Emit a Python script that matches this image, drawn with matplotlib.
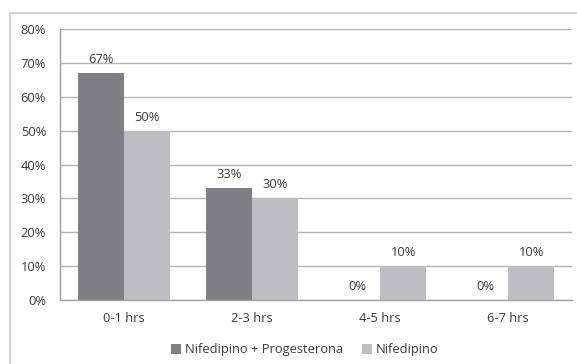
import matplotlib
matplotlib.use("Agg")
import matplotlib.pyplot as plt
from matplotlib.patches import Rectangle
from matplotlib.ticker import FuncFormatter
import numpy as np

categories = ["0-1 hrs", "2-3 hrs", "4-5 hrs", "6-7 hrs"]
series_names = ["Nifedipino + Progesterona", "Nifedipino"]
nif_prog = [67, 33, 0, 0]
nif = [50, 30, 10, 10]
y_ticks = [0, 10, 20, 30, 40, 50, 60, 70, 80]

dark = "#7f7f83"
light = "#bebec2"
text_col = "#3a3a3a"
grid_col = "#b4b4b4"
fs = 9.3

plt.rcParams["font.family"] = ["Open Sans", "DejaVu Sans"]

W, H = 577, 364
fig = plt.figure(figsize=(W / 100, H / 100), dpi=100)

# chart area border
fig.patches.append(Rectangle((10 / W, -0.1), 1.2, (H - 13) / H + 0.1,
                             transform=fig.transFigure, fill=False,
                             edgecolor="#c8c8c8", linewidth=1.2))

ax = fig.add_axes([60 / W, (H - 300) / H, (572 - 60) / W, (300 - 29) / H])

x = np.arange(len(categories))
bw = 0.36
b1 = ax.bar(x - bw / 2, nif_prog, bw, color=dark, label=series_names[0], zorder=3)
b2 = ax.bar(x + bw / 2, nif, bw, color=light, label=series_names[1], zorder=3)

for bars, vals in ((b1, nif_prog), (b2, nif)):
    for rect, v in zip(bars, vals):
        ax.annotate(f"{v}%", (rect.get_x() + rect.get_width() / 2, v),
                    xytext=(0, 5), textcoords="offset points",
                    ha="center", va="bottom", fontsize=fs, color=text_col)

ax.set_xlim(-0.5, len(categories) - 0.5)
ax.set_ylim(0, 80)
ax.set_yticks(y_ticks)
ax.yaxis.set_major_formatter(FuncFormatter(lambda v, p: f"{v:.0f}%"))
ax.set_xticks(x)
ax.set_xticklabels(categories)
ax.tick_params(axis="both", length=0, labelsize=fs, colors=text_col)
ax.tick_params(axis="y", pad=10)
ax.tick_params(axis="x", pad=9)

ax.grid(axis="y", color=grid_col, linewidth=1.0, zorder=0)
for s in ("top", "right"):
    ax.spines[s].set_visible(False)
for s in ("left", "bottom"):
    ax.spines[s].set_color("#a0a0a0")
    ax.spines[s].set_linewidth(1.0)
ax.spines["bottom"].set_zorder(4)

leg = fig.legend(handles=[b1, b2], labels=series_names, loc="center",
                 bbox_to_anchor=(305 / W, (H - 350) / H), ncol=2, frameon=False,
                 fontsize=fs, handlelength=0.75, handleheight=0.75,
                 handletextpad=0.3, columnspacing=1.5)
for t in leg.get_texts():
    t.set_color(text_col)

fig.savefig("out.png", dpi=100)
